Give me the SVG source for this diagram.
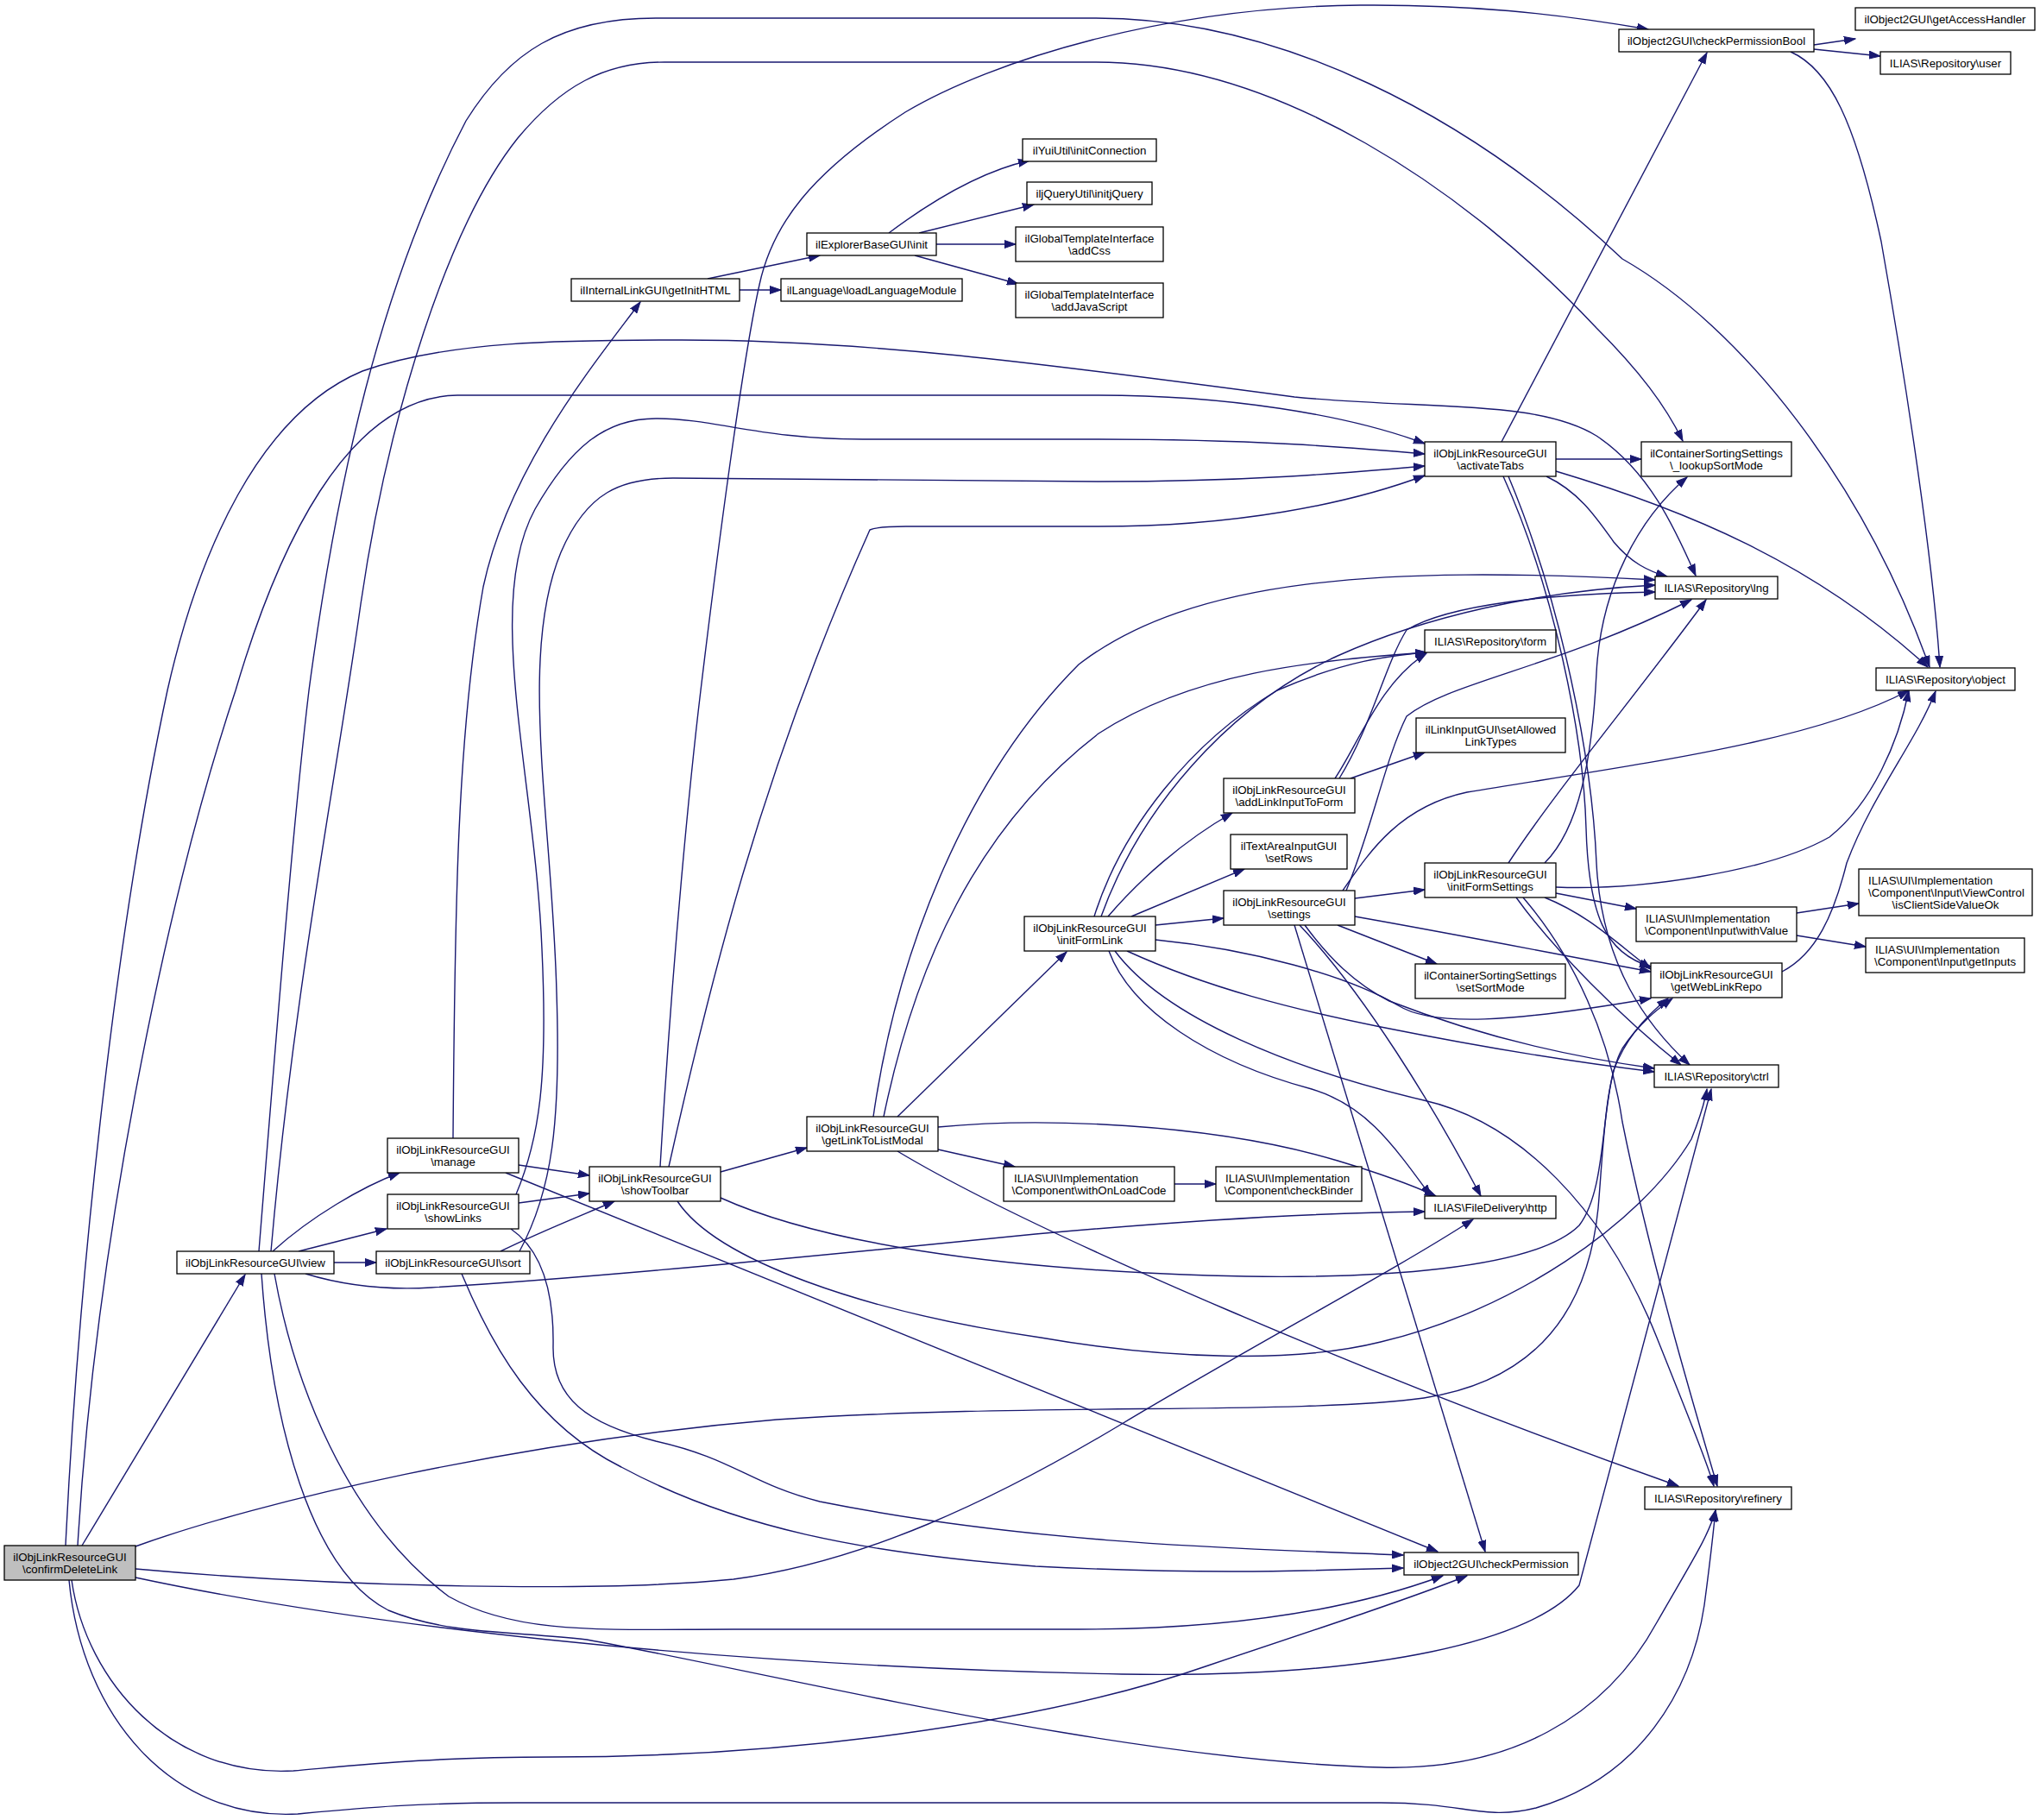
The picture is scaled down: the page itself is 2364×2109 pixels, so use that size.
<svg xmlns="http://www.w3.org/2000/svg" width="2364" height="2109" viewBox="0 0 2364 2109">
<defs>
<style>
.node rect{fill:#ffffff;stroke:#000000;stroke-width:1.3}
.node text{font-family:"Liberation Sans",Arial,Helvetica,sans-serif;font-size:13.3px;fill:#000000;text-anchor:middle}
.node text.l{text-anchor:start}
#n1 rect{fill:#bfbfbf}
.edges path{fill:none;stroke:#191970;stroke-width:1.4;marker-end:url(#ah)}
</style>
<marker id="ah" markerWidth="14" markerHeight="10" refX="13" refY="5" orient="auto" markerUnits="userSpaceOnUse">
<path d="M0,0.5 L13,5 L0,9.5 z" fill="#191970" stroke="#191970" stroke-width="1"/>
</marker>
</defs>
<rect x="0" y="0" width="2364" height="2109" fill="#ffffff"/>
<g class="edges">
<path d="M95,1791 L284,1477"/>
<path d="M76,1791 C90,1500 130,1100 194,800 C230,640 300,480 420,430 C520,395 650,394 790,394 C1000,394 1200,420 1500,460 C1650,475 1780,462 1850,505 C1910,545 1940,610 1965,667"/>
<path d="M90,1791 C110,1450 190,1050 273,800 C320,640 400,460 530,458 L1273,458 C1420,458 1560,480 1651,514"/>
<path d="M157,1792 C300,1740 600,1670 900,1645 C1200,1625 1500,1640 1650,1620 C1780,1600 1840,1520 1852,1400 C1858,1330 1860,1250 1880,1215 C1900,1185 1920,1170 1938,1157"/>
<path d="M157,1828 C400,1880 800,1930 1300,1940 C1600,1945 1780,1900 1830,1837 L1983,1262"/>
<path d="M157,1818 C400,1840 700,1845 850,1830 C1000,1810 1150,1740 1300,1650 C1450,1560 1620,1470 1707,1413"/>
<path d="M83,1831 C100,1950 200,2060 340,2052 C420,2045 500,2036 640,2036 C900,2036 1200,2000 1400,1930 C1550,1880 1640,1850 1700,1826"/>
<path d="M80,1831 C95,1990 200,2110 345,2102 C420,2095 480,2089 600,2089 L1600,2089 C1700,2089 1720,2110 1780,2095 C1900,2060 1960,1960 1975,1860 C1983,1800 1986,1770 1988,1750"/>
<path d="M316,1450 C360,1410 420,1375 463,1359"/>
<path d="M346,1450 L448,1424"/>
<path d="M387,1463 L436,1463"/>
<path d="M300,1450 C320,1200 340,950 358,800 C390,560 440,330 540,140 C590,60 650,21 760,21 L1270,21 C1480,21 1700,130 1880,300 C2020,380 2160,560 2236,773"/>
<path d="M314,1450 C340,1150 390,900 418,700 C450,480 520,260 600,160 C650,100 700,72 770,72 L1270,72 C1480,72 1700,220 1850,380 C1900,430 1930,470 1950,511"/>
<path d="M354,1476 C400,1490 450,1495 500,1492 C700,1480 1000,1450 1200,1430 C1400,1412 1550,1405 1651,1404"/>
<path d="M318,1476 C340,1600 400,1760 520,1850 C600,1895 700,1888 850,1888 L1250,1888 C1450,1888 1580,1860 1672,1826"/>
<path d="M303,1476 C315,1650 360,1820 450,1866 C520,1895 600,1890 680,1900 C900,1940 1300,2040 1600,2048 C1750,2052 1860,1990 1920,1880 C1960,1810 1980,1780 1988,1750"/>
<path d="M601,1350 L683,1362"/>
<path d="M525,1319 C527,1050 530,850 560,680 C590,540 690,420 742,350"/>
<path d="M586,1359 L1666,1798"/>
<path d="M601,1394 L683,1383"/>
<path d="M598,1384 C625,1320 635,1250 628,1100 C620,900 560,700 620,590 C660,520 700,485 760,485 C830,485 880,509 1000,509 L1273,509 C1450,509 1560,518 1651,526"/>
<path d="M592,1424 C630,1450 642,1500 641,1560 C640,1620 680,1650 760,1670 C850,1690 870,1720 950,1740 C1200,1790 1450,1795 1626,1802"/>
<path d="M580,1450 C620,1430 670,1410 712,1392"/>
<path d="M602,1450 C640,1380 650,1300 645,1150 C640,950 600,760 650,640 C680,570 720,554 780,554 L1273,558 C1450,558 1560,548 1651,540"/>
<path d="M535,1476 C570,1560 620,1650 720,1700 C850,1770 1000,1800 1200,1815 C1400,1825 1520,1820 1626,1817"/>
<path d="M835,1358 L935,1330"/>
<path d="M765,1352 C780,1100 800,900 812,800 C830,650 860,420 880,330 C895,260 940,200 1049,130 C1150,70 1350,8 1576,6 C1700,5 1800,15 1910,34"/>
<path d="M775,1352 C820,1150 880,900 1008,614 C1015,611 1030,610 1050,610 L1273,610 C1430,610 1560,585 1651,551"/>
<path d="M835,1388 C950,1440 1150,1470 1400,1478 C1600,1484 1780,1470 1830,1420 C1860,1380 1855,1300 1870,1240 C1885,1200 1910,1175 1933,1157"/>
<path d="M785,1392 C830,1460 1000,1520 1206,1550 C1350,1575 1500,1580 1600,1555 C1750,1520 1900,1420 1960,1320 C1970,1295 1975,1280 1978,1262"/>
<path d="M1040,1294 L1236,1103"/>
<path d="M1087,1332 L1176,1352"/>
<path d="M1040,1334 C1200,1430 1600,1600 1945,1722"/>
<path d="M1087,1306 C1200,1295 1400,1300 1550,1345 C1600,1360 1640,1375 1664,1386"/>
<path d="M1012,1294 C1040,1100 1120,900 1250,770 C1380,670 1600,655 1918,672"/>
<path d="M1024,1294 C1060,1120 1130,960 1273,850 C1380,780 1520,765 1653,756"/>
<path d="M1284,1062 C1320,1020 1370,975 1428,942"/>
<path d="M1311,1062 L1442,1007"/>
<path d="M1339,1072 L1418,1064"/>
<path d="M1268,1062 C1300,960 1380,860 1480,800 C1560,765 1610,760 1653,756"/>
<path d="M1276,1062 C1320,940 1420,820 1550,760 C1650,715 1780,685 1918,678"/>
<path d="M1339,1089 C1450,1100 1560,1130 1620,1165 C1660,1190 1750,1185 1913,1157"/>
<path d="M1306,1102 C1400,1145 1500,1170 1600,1190 C1700,1210 1800,1228 1917,1242"/>
<path d="M1285,1102 C1310,1170 1400,1230 1520,1262 C1580,1280 1610,1320 1658,1386"/>
<path d="M1292,1102 C1350,1180 1500,1240 1650,1275 C1760,1300 1860,1400 1920,1550 C1960,1650 1980,1700 1986,1722"/>
<path d="M1570,1041 L1651,1031"/>
<path d="M1550,1072 L1665,1117"/>
<path d="M1500,1072 L1721,1798"/>
<path d="M1506,1072 C1580,1150 1660,1280 1716,1386"/>
<path d="M1560,1032 C1590,960 1605,880 1630,830 C1680,790 1800,775 1960,695"/>
<path d="M1556,1032 C1585,990 1620,935 1700,918 C1900,885 2100,860 2212,800"/>
<path d="M1570,1062 C1700,1085 1800,1105 1913,1126"/>
<path d="M1512,1072 C1540,1110 1570,1140 1610,1160 C1700,1195 1800,1222 1917,1238"/>
<path d="M1803,1035 L1896,1053"/>
<path d="M1790,1040 C1840,1060 1870,1090 1913,1123"/>
<path d="M1757,1040 C1800,1100 1880,1180 1948,1234"/>
<path d="M1765,1040 C1825,1110 1865,1200 1880,1300 C1910,1450 1960,1620 1990,1722"/>
<path d="M1748,1000 C1800,920 1900,800 1977,695"/>
<path d="M1790,1000 C1830,960 1845,880 1850,780 C1855,680 1900,600 1955,553"/>
<path d="M1803,1028 C1900,1032 2050,1010 2120,970 C2170,930 2200,860 2212,800"/>
<path d="M2082,1058 L2154,1047"/>
<path d="M2082,1084 L2162,1097"/>
<path d="M2065,1126 C2105,1105 2125,1060 2140,1000 C2170,920 2220,860 2243,801"/>
<path d="M1565,902 L1651,872"/>
<path d="M1547,902 C1575,860 1600,790 1653,757"/>
<path d="M1552,902 C1590,840 1605,770 1630,730 C1680,700 1800,688 1918,686"/>
<path d="M2102,52 L2150,45"/>
<path d="M2102,57 L2179,65"/>
<path d="M2075,60 C2120,80 2150,140 2180,280 C2210,450 2240,650 2248,773"/>
<path d="M1740,512 L1978,61"/>
<path d="M1803,532 L1902,532"/>
<path d="M1792,552 C1830,570 1850,600 1870,628 C1890,652 1910,662 1932,668"/>
<path d="M1803,546 C1950,590 2100,650 2234,773"/>
<path d="M1742,552 C1800,680 1835,850 1838,960 C1841,1060 1860,1105 1913,1120"/>
<path d="M1748,552 C1810,700 1845,880 1850,1000 C1856,1120 1910,1190 1958,1234"/>
<path d="M820,323 L950,296"/>
<path d="M857,336 L905,336"/>
<path d="M1030,270 C1070,240 1130,200 1193,186"/>
<path d="M1065,270 L1198,237"/>
<path d="M1085,283 L1177,283"/>
<path d="M1060,296 L1180,329"/>
<path d="M1361,1372 L1409,1372"/>
</g>
<g id="n1" class="node"><rect x="5" y="1791" width="152" height="40"/><text x="81" y="1808.7">ilObjLinkResourceGUI</text><text x="81" y="1822.7">\confirmDeleteLink</text></g>
<g id="n2" class="node"><rect x="205" y="1450" width="182" height="26"/><text x="296" y="1467.5">ilObjLinkResourceGUI\view</text></g>
<g id="n3" class="node"><rect x="449" y="1319" width="152" height="40"/><text x="525" y="1336.7">ilObjLinkResourceGUI</text><text x="525" y="1350.7">\manage</text></g>
<g id="n4" class="node"><rect x="449" y="1384" width="152" height="40"/><text x="525" y="1401.7">ilObjLinkResourceGUI</text><text x="525" y="1415.7">\showLinks</text></g>
<g id="n5" class="node"><rect x="436" y="1450" width="178" height="26"/><text x="525" y="1467.5">ilObjLinkResourceGUI\sort</text></g>
<g id="n6" class="node"><rect x="683" y="1352" width="152" height="40"/><text x="759" y="1369.7">ilObjLinkResourceGUI</text><text x="759" y="1383.7">\showToolbar</text></g>
<g id="n7" class="node"><rect x="935" y="1294" width="152" height="40"/><text x="1011" y="1311.7">ilObjLinkResourceGUI</text><text x="1011" y="1325.7">\getLinkToListModal</text></g>
<g id="n8" class="node"><rect x="1187" y="1062" width="152" height="40"/><text x="1263" y="1079.7">ilObjLinkResourceGUI</text><text x="1263" y="1093.7">\initFormLink</text></g>
<g id="n9" class="node"><rect x="1163" y="1352" width="198" height="40"/><text class="l" x="1175" y="1369.7">ILIAS\UI\Implementation</text><text x="1262" y="1383.7">\Component\withOnLoadCode</text></g>
<g id="n10" class="node"><rect x="1409" y="1352" width="169" height="40"/><text class="l" x="1420" y="1369.7">ILIAS\UI\Implementation</text><text x="1493.5" y="1383.7">\Component\checkBinder</text></g>
<g id="n11" class="node"><rect x="662" y="323" width="195" height="26"/><text x="759.5" y="340.5">ilInternalLinkGUI\getInitHTML</text></g>
<g id="n12" class="node"><rect x="905" y="323" width="210" height="26"/><text x="1010" y="340.5">ilLanguage\loadLanguageModule</text></g>
<g id="n13" class="node"><rect x="935" y="270" width="150" height="26"/><text x="1010" y="287.5">ilExplorerBaseGUI\init</text></g>
<g id="n14" class="node"><rect x="1185" y="161" width="155" height="26"/><text x="1262.5" y="178.5">ilYuiUtil\initConnection</text></g>
<g id="n15" class="node"><rect x="1190" y="211" width="145" height="26"/><text x="1262.5" y="228.5">iljQueryUtil\initjQuery</text></g>
<g id="n16" class="node"><rect x="1177" y="263" width="171" height="40"/><text x="1262.5" y="280.7">ilGlobalTemplateInterface</text><text x="1262.5" y="294.7">\addCss</text></g>
<g id="n17" class="node"><rect x="1177" y="328" width="171" height="40"/><text x="1262.5" y="345.7">ilGlobalTemplateInterface</text><text x="1262.5" y="359.7">\addJavaScript</text></g>
<g id="n18" class="node"><rect x="1651" y="512" width="152" height="40"/><text x="1727" y="529.7">ilObjLinkResourceGUI</text><text x="1727" y="543.7">\activateTabs</text></g>
<g id="n19" class="node"><rect x="1876" y="34" width="226" height="26"/><text x="1989" y="51.5">ilObject2GUI\checkPermissionBool</text></g>
<g id="n20" class="node"><rect x="2150" y="9" width="208" height="26"/><text x="2254" y="26.5">ilObject2GUI\getAccessHandler</text></g>
<g id="n21" class="node"><rect x="2179" y="60" width="151" height="26"/><text x="2254.5" y="77.5">ILIAS\Repository\user</text></g>
<g id="n22" class="node"><rect x="1902" y="512" width="174" height="40"/><text x="1989" y="529.7">ilContainerSortingSettings</text><text x="1989" y="543.7">\_lookupSortMode</text></g>
<g id="n23" class="node"><rect x="1918" y="668" width="142" height="26"/><text x="1989" y="685.5">ILIAS\Repository\lng</text></g>
<g id="n24" class="node"><rect x="2174" y="774" width="161" height="26"/><text x="2254.5" y="791.5">ILIAS\Repository\object</text></g>
<g id="n25" class="node"><rect x="1651" y="730" width="152" height="26"/><text x="1727" y="747.5">ILIAS\Repository\form</text></g>
<g id="n26" class="node"><rect x="1641" y="832" width="173" height="40"/><text x="1727.5" y="849.7">ilLinkInputGUI\setAllowed</text><text x="1727.5" y="863.7">LinkTypes</text></g>
<g id="n27" class="node"><rect x="1418" y="902" width="152" height="40"/><text x="1494" y="919.7">ilObjLinkResourceGUI</text><text x="1494" y="933.7">\addLinkInputToForm</text></g>
<g id="n28" class="node"><rect x="1426" y="967" width="135" height="40"/><text x="1493.5" y="984.7">ilTextAreaInputGUI</text><text x="1493.5" y="998.7">\setRows</text></g>
<g id="n29" class="node"><rect x="1418" y="1032" width="152" height="40"/><text x="1494" y="1049.7">ilObjLinkResourceGUI</text><text x="1494" y="1063.7">\settings</text></g>
<g id="n30" class="node"><rect x="1651" y="1000" width="152" height="40"/><text x="1727" y="1017.7">ilObjLinkResourceGUI</text><text x="1727" y="1031.7">\initFormSettings</text></g>
<g id="n31" class="node"><rect x="1896" y="1051" width="186" height="40"/><text class="l" x="1907" y="1068.7">ILIAS\UI\Implementation</text><text x="1989" y="1082.7">\Component\Input\withValue</text></g>
<g id="n32" class="node"><rect x="2154" y="1007" width="201" height="54"/><text class="l" x="2165" y="1024.7">ILIAS\UI\Implementation</text><text class="l" x="2165" y="1038.7">\Component\Input\ViewControl</text><text x="2254.5" y="1052.7">\isClientSideValueOk</text></g>
<g id="n33" class="node"><rect x="2162" y="1087" width="184" height="40"/><text class="l" x="2173" y="1104.7">ILIAS\UI\Implementation</text><text x="2254" y="1118.7">\Component\Input\getInputs</text></g>
<g id="n34" class="node"><rect x="1913" y="1116" width="152" height="40"/><text x="1989" y="1133.7">ilObjLinkResourceGUI</text><text x="1989" y="1147.7">\getWebLinkRepo</text></g>
<g id="n35" class="node"><rect x="1640" y="1117" width="174" height="40"/><text x="1727" y="1134.7">ilContainerSortingSettings</text><text x="1727" y="1148.7">\setSortMode</text></g>
<g id="n36" class="node"><rect x="1917" y="1234" width="144" height="26"/><text x="1989" y="1251.5">ILIAS\Repository\ctrl</text></g>
<g id="n37" class="node"><rect x="1651" y="1386" width="152" height="26"/><text x="1727" y="1403.5">ILIAS\FileDelivery\http</text></g>
<g id="n38" class="node"><rect x="1906" y="1723" width="170" height="26"/><text x="1991" y="1740.5">ILIAS\Repository\refinery</text></g>
<g id="n39" class="node"><rect x="1627" y="1799" width="202" height="26"/><text x="1728" y="1816.5">ilObject2GUI\checkPermission</text></g>
</svg>
